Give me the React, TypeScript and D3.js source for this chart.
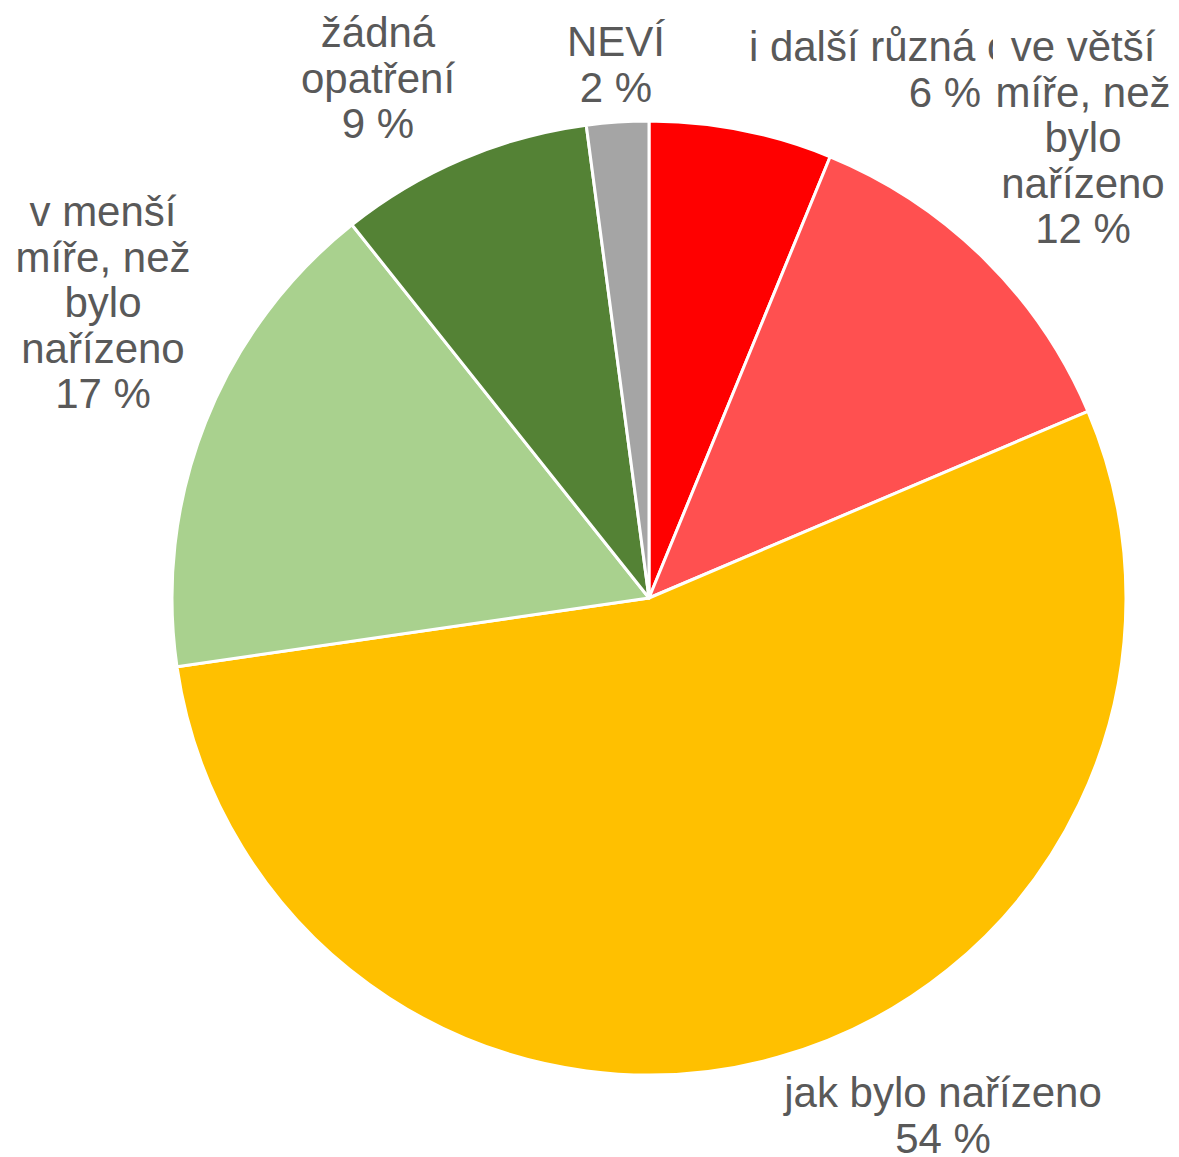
import React from "react";
import * as d3 from "d3";

// categories in clockwise order from 12 o'clock
const categories = [
  "i další různá opatření",
  "ve větší míře, než bylo nařízeno",
  "jak bylo nařízeno",
  "v menší míře, než bylo nařízeno",
  "žádná opatření",
  "NEVÍ",
];
const values = [6.2, 12.4, 54.1, 16.6, 8.6, 2.1];
const colors = ["#FF0000", "#FF5050", "#FFC000", "#A9D18E", "#548235", "#A5A5A5"];

// how each label wraps, as placed by the original chart
const labelLines = [
  ["i další různá opatření"],
  ["ve větší", "míře, než", "bylo", "nařízeno"],
  ["jak bylo nařízeno"],
  ["v menší", "míře, než", "bylo", "nařízeno"],
  ["žádná", "opatření"],
  ["NEVÍ"],
];

const width = 1179;
const height = 1157;
const cx = 649;
const cy = 598;
const radius = 477;
const fontSize = 42;
const lineH = 45.5;

// label centre x and first baseline
const labelPos: [number, number][] = [
  [945, 61],
  [1083, 61],
  [943, 1107],
  [103, 226],
  [378, 47],
  [616, 56],
];

const App: React.FC = () => {
  const pie = d3
    .pie<number>()
    .sort(null)
    .value((d) => d);
  const arcs = pie(values);
  const arc = d3
    .arc<d3.PieArcDatum<number>>()
    .innerRadius(0)
    .outerRadius(radius);

  const renderLabel = (i: number) => {
    const lines = [...labelLines[i], `${Math.round(values[i])} %`];
    const [x, y] = labelPos[i];
    return (
      <text
        key={"l" + i}
        x={x}
        y={y}
        textAnchor="middle"
        fill="#595959"
        fontSize={fontSize}
        fontFamily="'Liberation Sans', Arial, sans-serif"
      >
        {lines.map((t, j) => (
          <tspan key={j} x={x} y={y + j * lineH}>
            {t}
          </tspan>
        ))}
      </text>
    );
  };

  return (
    <svg
      width={width}
      height={height}
      style={{ position: "absolute", left: 0, top: 0, background: "#fff" }}
    >
      <g transform={`translate(${cx},${cy})`}>
        {arcs.map((a, i) => (
          <path
            key={i}
            d={arc(a) || ""}
            fill={colors[i]}
            stroke="#fff"
            strokeWidth={3}
            strokeLinejoin="round"
          />
        ))}
      </g>
      {[0, 2, 3, 4, 5].map((i) => renderLabel(i))}
      {/* the larger label box sits over the first label */}
      <rect x={993} y={22} width={182} height={232} fill="#fff" />
      {renderLabel(1)}
    </svg>
  );
};

export default App;
